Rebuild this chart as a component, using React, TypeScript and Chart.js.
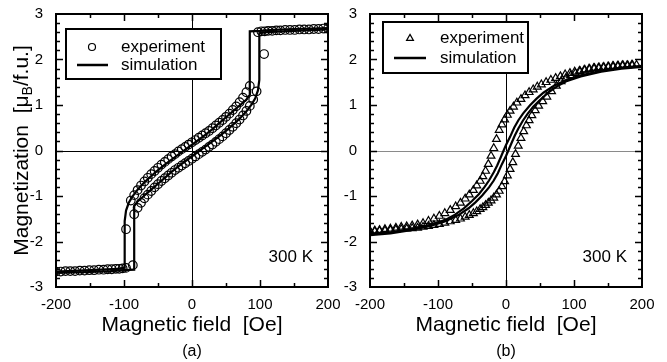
import { useEffect, useRef } from 'react';
import { Chart, registerables } from 'chart.js';
Chart.register(...registerables);

const FONT = '"Liberation Sans", Arial, Helvetica, sans-serif';

// ---------- Panel (a) ----------
const aExpDescH = [200,193,186,179,172,165,158,151,144,137,130,124,118,112,107,102,97,
  85,80,75,70,65,60,55,50,45,40,35,30,25,20,15,10,5,0,-5,-10,-15,-20,-25,-30,-35,-40,-45,-50,-55,-60,-65,-70,-75,-80,-85,-90,-97];
const aExpDescM = [2.68,2.68,2.67,2.67,2.66,2.66,2.66,2.65,2.65,2.65,2.64,2.64,2.63,2.63,2.62,2.62,2.6,
  1.42,1.28,1.16,1.06,0.97,0.89,0.81,0.74,0.67,0.61,0.55,0.49,0.43,0.38,0.33,0.28,0.23,0.18,0.13,0.08,0.03,-0.02,-0.08,-0.13,-0.19,-0.25,-0.31,-0.38,-0.45,-0.52,-0.6,-0.68,-0.77,-0.87,-0.98,-1.1,-1.73];
const aExpAscH = [-200,-193,-186,-179,-172,-165,-158,-151,-144,-137,-130,-124,-118,-112,-107,-102,-97,-87,
  -85,-80,-75,-70,-65,-60,-55,-50,-45,-40,-35,-30,-25,-20,-15,-10,-5,0,5,10,15,20,25,30,35,40,45,50,55,60,65,70,75,80,85,90,95,106];
const aExpAscM = [-2.66,-2.66,-2.65,-2.65,-2.65,-2.64,-2.64,-2.63,-2.63,-2.62,-2.62,-2.61,-2.61,-2.6,-2.6,-2.59,-2.58,-2.52,
  -1.4,-1.26,-1.15,-1.05,-0.97,-0.89,-0.81,-0.74,-0.67,-0.61,-0.55,-0.49,-0.43,-0.38,-0.33,-0.28,-0.23,-0.18,-0.13,-0.08,-0.03,0.02,0.08,0.13,0.19,0.25,0.31,0.38,0.45,0.52,0.6,0.68,0.77,0.87,0.98,1.12,1.3,2.12];

const aSimDescH = [200,150,120,100,85,85,80,70,60,50,40,30,20,10,0,-10,-20,-30,-40,-50,-60,-70,-80,-88,-93,-97,-99,-99,-110,-150,-200];
const aSimDescM = [2.69,2.67,2.65,2.63,2.62,1.22,1.12,0.99,0.86,0.73,0.6,0.47,0.35,0.24,0.13,0.02,-0.09,-0.2,-0.31,-0.43,-0.56,-0.7,-0.86,-1.02,-1.15,-1.32,-1.55,-2.58,-2.6,-2.63,-2.66];
const aSimAscH = [-200,-150,-120,-100,-85,-85,-80,-70,-60,-50,-40,-30,-20,-10,0,10,20,30,40,50,60,70,80,88,93,97,99,99,110,150,200];
const aSimAscM = [-2.69,-2.67,-2.65,-2.63,-2.62,-1.22,-1.12,-0.99,-0.86,-0.73,-0.6,-0.47,-0.35,-0.24,-0.13,-0.02,0.09,0.2,0.31,0.43,0.56,0.7,0.86,1.02,1.15,1.32,1.55,2.58,2.6,2.63,2.66];

// ---------- Panel (b) ----------
const bExpDescH = [192,185,178,171,164,157,150,143,136,129,122,115,108,101,94,87,80,73,66,59,52,46,40,34,28,22,16,11,6,2,
  -2,-6,-10,-14,-18,-22,-26,-30,-34,-38,-43,-48,-54,-60,-67,-74,-82,-90,-98,-106,-114,-122,-130,-138,-146,-154,-162,-170,-178,-186,-193,-200];
const bExpDescM = [1.88,1.88,1.87,1.87,1.86,1.85,1.84,1.83,1.82,1.81,1.79,1.77,1.75,1.73,1.7,1.67,1.63,1.59,1.55,1.5,1.45,1.4,1.34,1.28,1.21,1.13,1.05,0.96,0.87,0.78,
  0.68,0.57,0.45,0.25,0.05,-0.12,-0.3,-0.45,-0.57,-0.67,-0.77,-0.87,-0.97,-1.06,-1.15,-1.23,-1.31,-1.38,-1.44,-1.5,-1.55,-1.6,-1.63,-1.65,-1.67,-1.68,-1.7,-1.72,-1.73,-1.75,-1.76,-1.77];
const bExpAscH = [-200,-193,-186,-178,-170,-162,-154,-146,-138,-130,-122,-114,-106,-98,-90,-82,-74,-67,-60,-54,-48,-43,-38,-34,-30,-26,-22,-18,-14,-10,-6,-2,
  2,6,10,14,18,22,26,30,34,38,43,48,54,60,67,74,81,88,95,102,109,116,123,130,137,144,151,158,165,172,179,186];
const bExpAscM = [-1.78,-1.78,-1.77,-1.76,-1.75,-1.74,-1.73,-1.72,-1.71,-1.7,-1.68,-1.66,-1.64,-1.62,-1.59,-1.56,-1.53,-1.5,-1.46,-1.42,-1.38,-1.34,-1.29,-1.25,-1.2,-1.15,-1.1,-1.04,-0.97,-0.89,-0.79,-0.68,
  -0.55,-0.41,-0.26,-0.08,0.1,0.27,0.42,0.55,0.66,0.77,0.88,0.98,1.08,1.18,1.3,1.42,1.52,1.59,1.65,1.7,1.74,1.77,1.79,1.81,1.82,1.83,1.84,1.85,1.86,1.87,1.87,1.88];

const bSimDescH = [200,170,140,110,90,70,55,45,35,25,18,12,6,0,-3.5,-8,-13,-18,-25,-32,-40,-50,-62,-75,-90,-110,-140,-170,-200];
const bSimDescM = [1.86,1.82,1.75,1.65,1.56,1.42,1.27,1.14,0.99,0.81,0.66,0.5,0.3,0.12,0,-0.16,-0.33,-0.48,-0.66,-0.81,-0.96,-1.11,-1.27,-1.41,-1.53,-1.63,-1.73,-1.8,-1.84];
const bSimAscH = [-200,-170,-140,-110,-90,-70,-55,-45,-35,-25,-18,-12,-6,0,3.5,8,13,18,25,32,40,50,62,75,90,110,140,170,200];
const bSimAscM = [-1.86,-1.82,-1.75,-1.65,-1.56,-1.42,-1.27,-1.14,-0.99,-0.81,-0.66,-0.5,-0.3,-0.12,0,0.16,0.33,0.48,0.66,0.81,0.96,1.11,1.27,1.41,1.53,1.63,1.73,1.8,1.84];

// ---------- Text ----------
const xTitle = 'Magnetic field  [Oe]';
const yTitleMain = 'Magnetization  [\u03bc';
const yTitleSub = 'B';
const yTitleEnd = '/f.u.]';
const legendLabels = ['experiment', 'simulation'];
const tempLabel = '300 K';
const xRange = [-200, 200];
const yRange = [-3, 3];
const xStep = 100;
const yStep = 1;

const W = 667;
const H = 362;

function pts(h: number[], m: number[]) {
  return h.map((x, i) => ({ x, y: m[i] }));
}

type Panel = {
  key: string;
  left: number;
  right: number;
  yAxisW: number;
  expDesc: { x: number; y: number }[];
  expAsc: { x: number; y: number }[];
  simDesc: { x: number; y: number }[];
  simAsc: { x: number; y: number }[];
  marker: 'circle' | 'triangle';
  hZeroColor: string;
  label: string;
  yTitle: boolean;
  legend: { x1: number; y1: number; x2: number; y2: number; mx: number; my: number; lx1: number; lx2: number; ly: number; tx: number; ty1: number; ty2: number };
};

const panelA: Panel = {
  key: 'a', left: 56, right: 328, yAxisW: 56,
  expDesc: pts(aExpDescH, aExpDescM), expAsc: pts(aExpAscH, aExpAscM),
  simDesc: pts(aSimDescH, aSimDescM), simAsc: pts(aSimAscH, aSimAscM),
  marker: 'circle', hZeroColor: '#000', label: '(a)', yTitle: true,
  legend: { x1: 66, y1: 29, x2: 221, y2: 79, mx: 92, my: 47, lx1: 77, lx2: 108, ly: 65, tx: 121, ty1: 47, ty2: 65 },
};
const panelB: Panel = {
  key: 'b', left: 370, right: 642, yAxisW: 30,
  expDesc: pts(bExpDescH, bExpDescM), expAsc: pts(bExpAscH, bExpAscM),
  simDesc: pts(bSimDescH, bSimDescM), simAsc: pts(bSimAscH, bSimAscM),
  marker: 'triangle', hZeroColor: '#8a8a8a', label: '(b)', yTitle: false,
  legend: { x1: 383, y1: 22, x2: 528, y2: 73, mx: 410, my: 38, lx1: 394, lx2: 426, ly: 58, tx: 440, ty1: 38, ty2: 58 },
};

function drawMarker(ctx: CanvasRenderingContext2D, kind: string, x: number, y: number, r: number) {
  ctx.beginPath();
  if (kind === 'circle') {
    ctx.arc(x, y, r, 0, Math.PI * 2);
  } else {
    const s = r * 1.2;
    ctx.moveTo(x, y - s);
    ctx.lineTo(x + s * 0.95, y + s * 0.65);
    ctx.lineTo(x - s * 0.95, y + s * 0.65);
    ctx.closePath();
  }
  ctx.stroke();
}

function makeChart(canvas: HTMLCanvasElement, p: Panel) {
  const top = 13;
  const bottom = 287;
  const decor = {
    id: 'decor' + p.key,
    beforeDatasetsDraw(chart: any) {
      const { ctx, chartArea: a, scales } = chart;
      const x = scales.x, y = scales.y;
      ctx.save();
      ctx.lineWidth = 1;
      const x0 = Math.round(x.getPixelForValue(0)) + 0.5;
      ctx.strokeStyle = '#000';
      ctx.beginPath(); ctx.moveTo(x0, a.top); ctx.lineTo(x0, a.bottom); ctx.stroke();
      const y0 = Math.round(y.getPixelForValue(0)) + 0.5;
      ctx.strokeStyle = p.hZeroColor;
      ctx.beginPath(); ctx.moveTo(a.left, y0); ctx.lineTo(a.right, y0); ctx.stroke();
      ctx.restore();
    },
    afterDraw(chart: any) {
      const { ctx, chartArea: a, scales } = chart;
      const x = scales.x, y = scales.y;
      ctx.save();
      ctx.strokeStyle = '#000';
      ctx.fillStyle = '#000';
      // ticks (inward, all four sides)
      ctx.lineWidth = 1.5;
      ctx.beginPath();
      for (let i = -14; i <= 14; i++) {
        const v = i / 5;
        const py = Math.round(y.getPixelForValue(v)) + 0.5;
        const len = i % 5 === 0 ? 7 : 4;
        ctx.moveTo(a.left, py); ctx.lineTo(a.left + len, py);
        ctx.moveTo(a.right, py); ctx.lineTo(a.right - len, py);
      }
      for (let i = -3; i <= 3; i++) {
        const v = i * 50;
        const px = Math.round(x.getPixelForValue(v)) + 0.5;
        const len = i % 2 === 0 ? 7 : 4;
        ctx.moveTo(px, a.bottom); ctx.lineTo(px, a.bottom - len);
        ctx.moveTo(px, a.top); ctx.lineTo(px, a.top + len);
      }
      ctx.stroke();
      // frame
      ctx.lineWidth = 2;
      ctx.strokeRect(a.left, a.top, a.right - a.left, a.bottom - a.top);

      // legend
      const L = p.legend;
      ctx.fillStyle = '#fff';
      ctx.fillRect(L.x1, L.y1, L.x2 - L.x1, L.y2 - L.y1);
      ctx.lineWidth = 2;
      ctx.strokeRect(L.x1, L.y1, L.x2 - L.x1, L.y2 - L.y1);
      ctx.lineWidth = 1.2;
      drawMarker(ctx, p.marker, L.mx, L.my, p.marker === 'circle' ? 3.5 : 3);
      ctx.lineWidth = 2.5;
      ctx.beginPath(); ctx.moveTo(L.lx1, L.ly); ctx.lineTo(L.lx2, L.ly); ctx.stroke();
      ctx.fillStyle = '#000';
      ctx.font = `17px ${FONT}`;
      ctx.textBaseline = 'middle';
      ctx.textAlign = 'left';
      ctx.fillText(legendLabels[0], L.tx, L.ty1);
      ctx.fillText(legendLabels[1], L.tx, L.ty2);

      // 300 K
      ctx.font = `17px ${FONT}`;
      ctx.textAlign = 'right';
      ctx.textBaseline = 'alphabetic';
      ctx.fillText(tempLabel, a.right - 15, a.bottom - 25);

      // x title and panel label
      const cx = (a.left + a.right) / 2;
      ctx.textAlign = 'center';
      ctx.textBaseline = 'middle';
      ctx.font = `21px ${FONT}`;
      ctx.fillText(xTitle, cx, 325);
      ctx.font = `16px ${FONT}`;
      ctx.fillText(p.label, cx, 352);

      // y title with subscript
      if (p.yTitle) {
        ctx.save();
        ctx.translate(22, (a.top + a.bottom) / 2);
        ctx.rotate(-Math.PI / 2);
        ctx.textAlign = 'left';
        ctx.textBaseline = 'middle';
        ctx.font = `21px ${FONT}`;
        const w1 = ctx.measureText(yTitleMain).width;
        const w3 = ctx.measureText(yTitleEnd).width;
        ctx.font = `14px ${FONT}`;
        const w2 = ctx.measureText(yTitleSub).width;
        const start = -(w1 + w2 + w3) / 2;
        ctx.font = `21px ${FONT}`;
        ctx.fillText(yTitleMain, start, 0);
        ctx.font = `14px ${FONT}`;
        ctx.fillText(yTitleSub, start + w1, 6);
        ctx.font = `21px ${FONT}`;
        ctx.fillText(yTitleEnd, start + w1 + w2, 0);
        ctx.restore();
      }
      ctx.restore();
    },
  };

  const expStyle = {
    showLine: false,
    pointStyle: p.marker,
    pointRadius: p.marker === 'circle' ? 4.3 : 4.5,
    pointBorderWidth: 1.2,
    pointBorderColor: '#000',
    pointBackgroundColor: 'rgba(0,0,0,0)',
  };
  const simStyle = {
    showLine: true,
    pointRadius: 0,
    borderWidth: 2.2,
    borderColor: '#000',
    tension: 0,
    fill: false,
  };

  return new Chart(canvas, {
    type: 'scatter',
    data: {
      datasets: [
        { label: 'sim desc', data: p.simDesc, ...simStyle },
        { label: 'sim asc', data: p.simAsc, ...simStyle },
        { label: 'exp desc', data: p.expDesc, ...expStyle },
        { label: 'exp asc', data: p.expAsc, ...expStyle },
      ] as any,
    },
    options: {
      responsive: false,
      animation: false,
      devicePixelRatio: 1,
      layout: {
        padding: { left: p.left - p.yAxisW, right: W - p.right, top, bottom: 0 },
      },
      plugins: {
        legend: { display: false },
        tooltip: { enabled: false },
      },
      scales: {
        x: {
          type: 'linear',
          min: xRange[0],
          max: xRange[1],
          grid: { display: false },
          border: { display: false },
          ticks: {
            stepSize: xStep,
            autoSkip: false,
            maxRotation: 0,
            padding: 1,
            color: '#000',
            font: { family: FONT, size: 15 },
          },
          afterFit: (s: any) => { s.height = H - bottom; },
        },
        y: {
          type: 'linear',
          min: yRange[0],
          max: yRange[1],
          grid: { display: false },
          border: { display: false },
          ticks: {
            stepSize: yStep,
            padding: 5,
            color: '#000',
            font: { family: FONT, size: 15 },
          },
          afterFit: (s: any) => { s.width = p.yAxisW; },
        },
      },
    } as any,
    plugins: [decor],
  });
}

export default function App() {
  const refA = useRef<HTMLCanvasElement>(null);
  const refB = useRef<HTMLCanvasElement>(null);
  useEffect(() => {
    const ca = makeChart(refA.current as HTMLCanvasElement, panelA);
    const cb = makeChart(refB.current as HTMLCanvasElement, panelB);
    return () => { ca.destroy(); cb.destroy(); };
  }, []);
  return (
    <div style={{ position: 'fixed', left: 0, top: 0, width: W, height: H, background: '#fff' }}>
      <canvas ref={refA} width={W} height={H} style={{ position: 'absolute', left: 0, top: 0 }} />
      <canvas ref={refB} width={W} height={H} style={{ position: 'absolute', left: 0, top: 0 }} />
    </div>
  );
}
